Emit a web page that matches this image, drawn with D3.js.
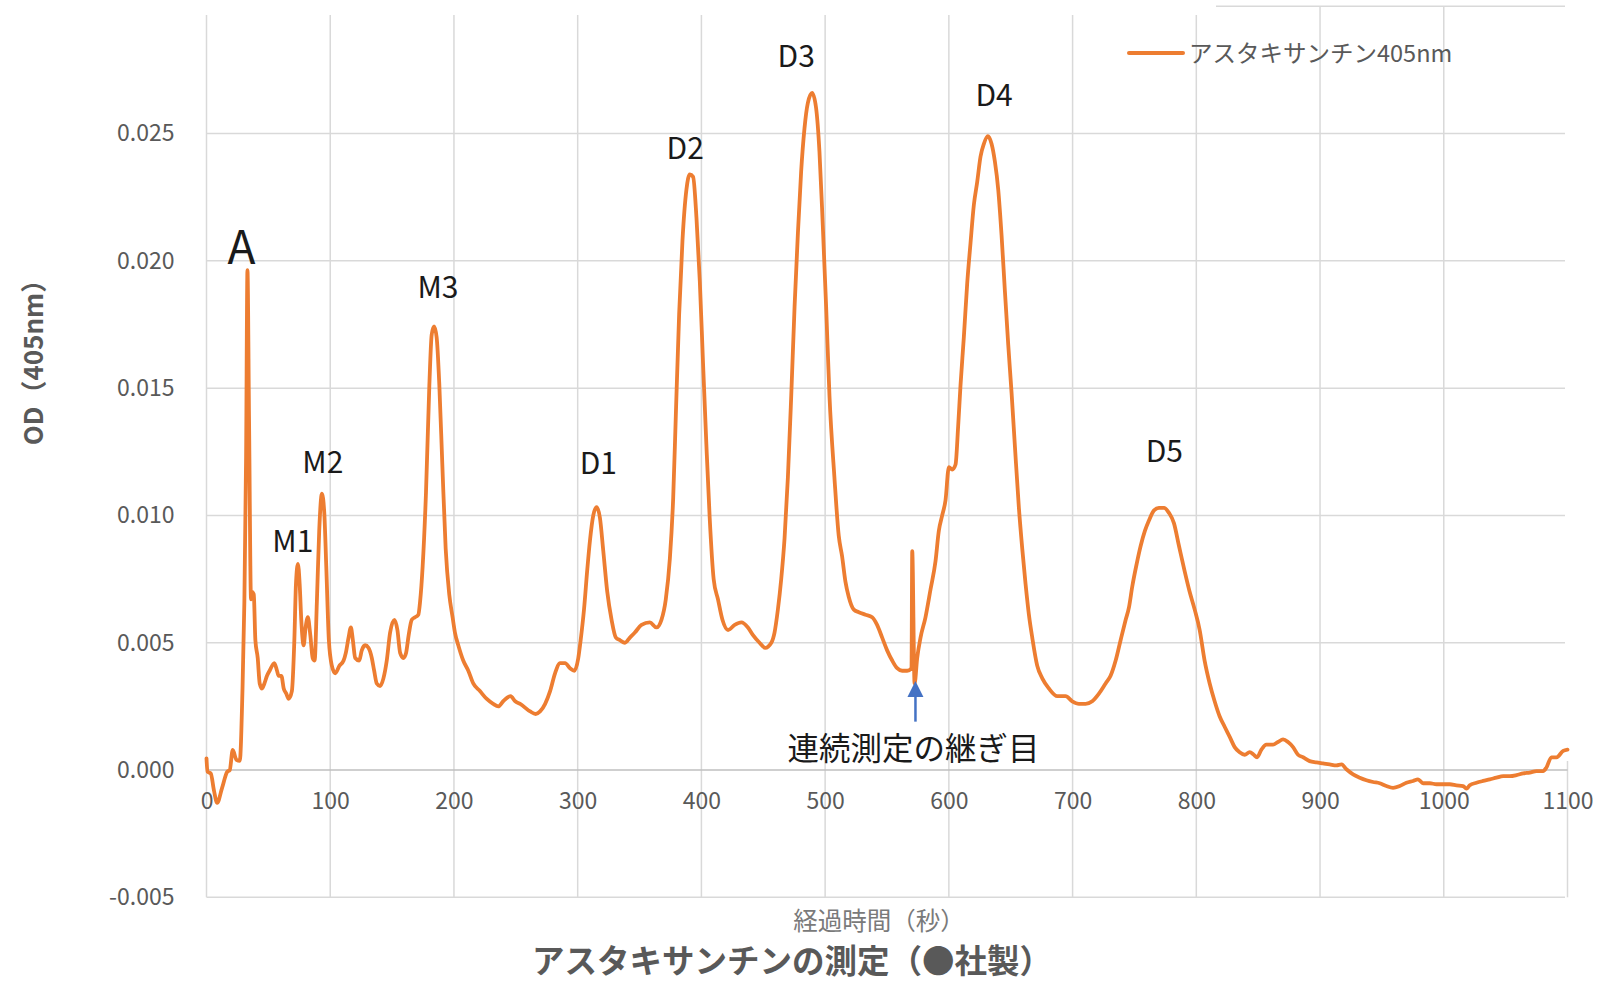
<!DOCTYPE html>
<html><head><meta charset="utf-8">
<script src="https://cdn.jsdelivr.net/npm/d3@7"></script>
<style>
html,body{margin:0;padding:0;background:#fff;}
svg text{font-family:"Noto Sans CJK JP","Noto Sans",sans-serif;}
</style></head>
<body>
<svg id="chart" width="1599" height="983"></svg>
<script>
// ---- data ----
const seriesName = "アスタキサンチン405nm";
const chartTitle = "アスタキサンチンの測定（●社製）";
const xTitle = "経過時間（秒）";
const yTitle = "OD（405nm）";
const xTicks = [0,100,200,300,400,500,600,700,800,900,1000,1100];
const yTicks = [-0.005,0,0.005,0.010,0.015,0.020,0.025];

const time = [0,0.8,3.5,6,8.6,12.6,16.7,18.8,21.2,24.2,26.9,29,30.6,32,33.1,34.4,36,36.8,38.2,39.5,41.4,43,44.9,46.8,48.9,51,54.8,57,58.3,60.5,62.4,64.5,66.4,69,71,72.3,73.9,75.3,76.6,78.5,80.1,81.9,83.9,85.8,87.4,89.2,91.1,93.3,95.2,96.8,98.9,101.3,104,107.5,110.8,112.6,114.8,116.7,118.3,120.2,123.4,125.5,128.2,130.9,133.6,135.5,137.6,140.3,143,145.7,148.4,151.9,154.3,156.5,159.1,161.3,163.4,165.9,168.5,171.2,172.6,174.7,177.4,180.1,182,183.9,186,188.2,190.6,193.3,196.2,198.9,200.8,203.5,207.5,211.6,215.6,221,226.3,231.7,235.8,239.8,245.8,249.5,253.5,261.6,266,269.6,273.7,277.7,281.7,285.8,289.8,293.8,297.3,300.5,302.4,305.1,307.8,309.9,312.6,315.3,318,320.7,323.9,327.4,330.9,334.1,338.2,342.2,346.2,351.6,358.3,363.7,367.7,371.2,374.5,377.2,379.3,382,384.7,387.9,390.6,393.3,396,398.7,401.3,404,406.7,409.9,413.4,417,421.5,426.9,432.3,437.6,441.7,447,451.6,456.5,459.1,461.8,464.5,467.2,469.9,472.6,475.3,478,480.6,483.3,486,489.5,492.7,495.4,498.1,500.8,503.5,507.5,511,513.7,516.4,519.1,523.2,527.2,532.6,538,542,546.1,550.1,554.2,558.2,562.3,566.3,569.8,570.4,572.3,574.4,577.1,581.1,585.2,589.2,591.9,594.6,597.3,600,602.7,605.4,607.5,609.4,612.1,614.8,617.5,620.2,622.9,625.6,628.3,631.5,634.5,637.2,639.9,642.6,645.3,648,650.7,653.4,656.6,659.3,662,664.7,667.4,671.4,675.5,680.9,687.6,694.3,699.7,705.1,710.5,715.9,721.3,726.7,730.7,734.8,738.8,742.9,745.6,748.2,751.8,755,758.5,761.7,765.8,769.8,773.9,777.9,781.9,786,790.6,794.6,798.7,802.7,806.7,810.8,814.8,818.9,822.9,827,831,835,839.1,843.1,846.4,849.1,852.6,856.6,862,866,870.1,874.1,878.2,882.2,886.3,891.6,897,902.4,907.8,913.2,917.3,921.3,926.7,932.1,937.5,942.9,948.2,953.6,959,964.4,969.8,975.2,979.2,983.3,988.7,994.1,999.5,1004.9,1010.2,1015.6,1018.3,1021,1026.4,1031.8,1037.2,1042.6,1048,1053.4,1058.8,1064.2,1069.5,1074.9,1080.3,1083,1087,1091.1,1096.5,1100];

const od = [0.00046,-0.00007,-0.00014,-0.0008,-0.00129,-0.0007,-0.00007,0,0.00079,0.0004,0.00036,0.003,0.0066,0.0123,0.01964,0.0137,0.0067,0.007,0.0069,0.0051,0.0044,0.0034,0.0032,0.0034,0.0037,0.0039,0.0042,0.0039,0.0037,0.0037,0.0032,0.003,0.0028,0.0031,0.0051,0.0073,0.0081,0.0073,0.0059,0.0049,0.0056,0.006,0.0053,0.0044,0.0043,0.0066,0.0094,0.01086,0.0101,0.008,0.0051,0.0041,0.0038,0.0041,0.0043,0.0046,0.0052,0.0056,0.0051,0.0044,0.0043,0.0047,0.0049,0.0048,0.0044,0.0039,0.0034,0.0033,0.0036,0.0043,0.0054,0.0059,0.0055,0.0046,0.0044,0.0046,0.0053,0.0059,0.006,0.0061,0.0066,0.008,0.0109,0.0151,0.0171,0.01743,0.017,0.0151,0.012,0.0087,0.0069,0.006,0.0054,0.0049,0.0043,0.0039,0.0034,0.0031,0.0028,0.0026,0.0025,0.0027,0.0029,0.0027,0.0026,0.0023,0.0022,0.0023,0.0026,0.0031,0.0038,0.0042,0.0042,0.004,0.0039,0.0044,0.0051,0.0063,0.0079,0.009,0.01,0.01033,0.0099,0.0086,0.007,0.0059,0.0052,0.0051,0.005,0.0052,0.0054,0.0057,0.0058,0.0056,0.0059,0.0067,0.0083,0.0107,0.0139,0.0179,0.0208,0.0228,0.0234,0.0233,0.0217,0.0192,0.016,0.0128,0.0099,0.0075,0.0067,0.0059,0.0055,0.0057,0.0058,0.0056,0.0053,0.005,0.0048,0.005,0.0054,0.0063,0.0075,0.0091,0.0115,0.0147,0.0182,0.0211,0.0235,0.0252,0.0262,0.0266,0.026,0.0243,0.0214,0.0182,0.0147,0.0115,0.0092,0.0084,0.0074,0.0068,0.0063,0.0062,0.0061,0.006,0.0057,0.0052,0.0047,0.0043,0.004,0.0039,0.0039,0.004,0.0086,0.0034,0.0044,0.0052,0.006,0.0071,0.0082,0.0094,0.01,0.0106,0.0119,0.0118,0.012,0.0135,0.0151,0.017,0.0191,0.0207,0.0222,0.0231,0.0241,0.0246,0.0249,0.0246,0.0239,0.0228,0.021,0.0188,0.0167,0.0148,0.0127,0.0103,0.0087,0.0073,0.0061,0.0052,0.0041,0.0036,0.0032,0.0029,0.0029,0.0027,0.0026,0.0026,0.0027,0.003,0.0034,0.0037,0.0043,0.0051,0.0059,0.0064,0.0072,0.0081,0.0088,0.0094,0.0098,0.0102,0.0103,0.0103,0.0101,0.0097,0.0088,0.0078,0.007,0.0063,0.0055,0.0043,0.0034,0.0027,0.0021,0.0017,0.0013,0.0009,0.0007,0.0006,0.0007,0.0006,0.0005,0.0008,0.001,0.001,0.0011,0.0012,0.0011,0.0009,0.0006,0.0005,0.00035,0.0003,0.00026,0.00022,0.00018,0.00022,0.00003,-0.00017,-0.0003,-0.0004,-0.00047,-0.00052,-0.00063,-0.0007,-0.00063,-0.0005,-0.00043,-0.00037,-0.00052,-0.00052,-0.00056,-0.00056,-0.00056,-0.0006,-0.00063,-0.00073,-0.0006,-0.0005,-0.00043,-0.00037,-0.0003,-0.00024,-0.00024,-0.0002,-0.00013,-0.0001,-0.00004,-0.00004,0.0001,0.0005,0.0005,0.00075,0.0008];

// peak labels: [text, time, od]
const peakLabels = ["A","M1","M2","M3","D1","D2","D3","D4","D5"];
const peakTimes  = [28.2,69.8,94.0,187.1,316.7,386.9,476.6,636.6,774.2];
const peakOD     = [0.02065,0.00908,0.01219,0.01907,0.01213,0.02453,0.02812,0.02659,0.01261];
const seamLabel = "連続測定の継ぎ目";
const seamTime = 573;
const seamTipOD = 0.0035;
const seamTailOD = 0.0019;
const seamLabelOD = 0.00095;

// ---- layout ----
const svg = d3.select("#chart");
const x = d3.scaleLinear().domain([0,1100]).range([206.5,1567.5]);
const y = d3.scaleLinear().domain([-0.005,0.030]).range([897.3,6.3]);
const gridColor = "#d9d9d9";
const textGrey = "#595959";

const grid = svg.append("g");
// horizontal gridlines
grid.selectAll("line.h").data(yTicks.filter(d=>d!==0)).enter().append("line")
  .attr("x1",x(0)).attr("x2",1565).attr("y1",d=>y(d)).attr("y2",d=>y(d))
  .attr("stroke",gridColor).attr("stroke-width",1.5);
// top gridline (partly hidden in the reference)
grid.append("line").attr("x1",1216).attr("x2",1565).attr("y1",y(0.030)).attr("y2",y(0.030))
  .attr("stroke",gridColor).attr("stroke-width",1.5);
// vertical gridlines
grid.selectAll("line.v").data(xTicks.filter(d=>d<1100)).enter().append("line")
  .attr("x1",d=>x(d)).attr("x2",d=>x(d))
  .attr("y1",d=>x(d)>1216? y(0.030):15).attr("y2",y(-0.005))
  .attr("stroke",gridColor).attr("stroke-width",1.5);
grid.append("line").attr("x1",x(1100)).attr("x2",x(1100)).attr("y1",761).attr("y2",y(-0.005))
  .attr("stroke",gridColor).attr("stroke-width",1.5);
// zero axis line
grid.append("line").attr("x1",x(0)).attr("x2",x(1100)).attr("y1",y(0)).attr("y2",y(0))
  .attr("stroke","#bfbfbf").attr("stroke-width",1.5);

// axes (labels only)
const xAxis = d3.axisBottom(x).tickValues(xTicks).tickSize(0).tickPadding(23).tickFormat(d3.format("d"));
const gx = svg.append("g").attr("transform",`translate(0,${y(0)})`).call(xAxis);
gx.select(".domain").remove();
gx.selectAll("text").attr("fill",textGrey).style("font-size","23px");

const fmtY = d => d3.format(".3f")(d).replace("\u2212","-");
const yAxis = d3.axisLeft(y).tickValues(yTicks).tickSize(0).tickPadding(32).tickFormat(fmtY);
const gy = svg.append("g").attr("transform",`translate(${x(0)},0)`).call(yAxis);
gy.select(".domain").remove();
gy.selectAll("text").attr("fill",textGrey).style("font-size","23px");

// data line
const pts = time.map((t,i)=>[t,od[i]]);
const line = d3.line().x(d=>x(d[0])).y(d=>y(d[1])).curve(d3.curveMonotoneX);
svg.append("path").datum(pts).attr("d",line)
  .attr("fill","none").attr("stroke","#ED7D31").attr("stroke-width",3.8)
  .attr("stroke-linejoin","round").attr("stroke-linecap","round");

// peak labels
svg.selectAll("text.peak").data(peakLabels).enter().append("text")
  .attr("x",(d,i)=>x(peakTimes[i])).attr("y",(d,i)=>y(peakOD[i]))
  .attr("text-anchor","middle").attr("dominant-baseline","central")
  .attr("fill","#1a1a1a").style("font-size",d=>d==="A"?"46px":"30px")
  .text(d=>d);

// seam arrow + label
const ax = x(seamTime);
svg.append("line").attr("x1",ax).attr("x2",ax).attr("y1",y(seamTailOD)).attr("y2",y(seamTipOD)+14)
  .attr("stroke","#4472C4").attr("stroke-width",2.5);
svg.append("path")
  .attr("d",`M${ax},${y(seamTipOD)} L${ax-8},${y(seamTipOD)+16} L${ax+8},${y(seamTipOD)+16} Z`)
  .attr("fill","#4472C4");
svg.append("text").attr("x",ax-2).attr("y",y(seamLabelOD))
  .attr("text-anchor","middle").attr("dominant-baseline","central")
  .attr("fill","#1a1a1a").style("font-size","31.5px").text(seamLabel);

// legend
svg.append("line").attr("x1",1129).attr("x2",1183).attr("y1",53).attr("y2",53)
  .attr("stroke","#ED7D31").attr("stroke-width",4).attr("stroke-linecap","round");
svg.append("text").attr("x",1189).attr("y",52).attr("dominant-baseline","central")
  .attr("fill",textGrey).style("font-size","23.5px").text(seriesName);

// axis titles
svg.append("text").attr("x",879).attr("y",919).attr("text-anchor","middle").attr("dominant-baseline","central")
  .attr("fill","#7a7a7a").style("font-size","24.5px").text(xTitle);
svg.append("text").attr("transform","translate(31,356) rotate(-90)")
  .attr("text-anchor","middle").attr("dominant-baseline","central")
  .attr("fill",textGrey).style("font-size","26px").style("font-weight","bold").text(yTitle);
// chart title
svg.append("text").attr("x",792).attr("y",958).attr("text-anchor","middle").attr("dominant-baseline","central")
  .attr("fill",textGrey).style("font-size","32.5px").style("font-weight","bold").text(chartTitle);
</script>
</body></html>
